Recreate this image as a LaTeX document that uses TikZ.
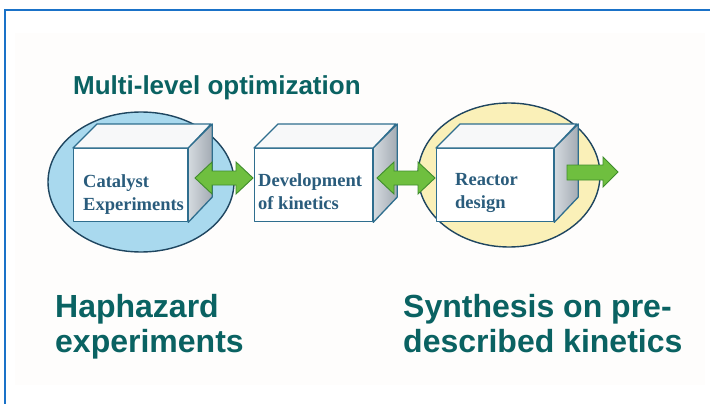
\documentclass[tikz,border=0pt]{standalone}
\usepackage{fontspec}
\setmainfont{Liberation Serif}
\newfontfamily\headfont{Liberation Sans}
\begin{document}
\begin{tikzpicture}[x=1pt,y=-1pt,
  frameline/.style={draw=frameblue,line width=2pt},
  orb/.style={draw=orbline,line width=1.4pt},
  face/.style={draw=cubeline,line width=1.3pt,line join=round},
  frontface/.style={face,fill=white,inner sep=0pt,anchor=north west},
  topface/.style={face,fill=topgrey},
  sideface/.style={face,left color=sidelight,right color=sidedark},
  blockarrow/.style={draw=arrowline,line width=0.9pt,fill=arrowgreen,line join=miter},
  boxtext/.style={text=boxblue,font=\bfseries\fontsize{18.5}{23}\selectfont,anchor=base west,inner sep=0pt},
  headtext/.style={text=headteal,font=\headfont\bfseries\fontsize{26}{30}\selectfont,anchor=base west,inner sep=0pt},
  bigtext/.style={text=headteal,font=\headfont\bfseries\fontsize{32}{35}\selectfont,anchor=base west,inner sep=0pt}
]
\definecolor{frameblue}{HTML}{1A72C8}
\definecolor{orbline}{HTML}{1F4660}
\definecolor{cubeline}{HTML}{2F6E8E}
\definecolor{topgrey}{HTML}{F7F8F9}
\definecolor{sidelight}{HTML}{D5DADF}
\definecolor{sidedark}{HTML}{A3ABB3}
\definecolor{arrowgreen}{HTML}{6FBF3F}
\definecolor{arrowline}{HTML}{3F8C2C}
\definecolor{boxblue}{HTML}{2A5C7C}
\definecolor{headteal}{HTML}{0A6262}
\definecolor{bluefill}{HTML}{A9D9EE}
\definecolor{yellowfill}{HTML}{FAF0B8}
\definecolor{paper}{HTML}{FEFDFC}

\useasboundingbox (0,0) rectangle (710,404);
\fill[white] (0,0) rectangle (710,404);
\fill[paper] (15,33) rectangle (705,385);

% frame: top and left rules
\draw[frameline] (5,404) -- (5,10) -- (710,10);

% level ellipses
\draw[orb,fill=bluefill] (141,182) ellipse [x radius=93,y radius=70];
\draw[orb,fill=yellowfill] (509,175) ellipse [x radius=91,y radius=72];

% cubes: front face as a node, top and side faces from its corners
\newcommand\cubeat[4]{% name, x, y, width
  \node[frontface,minimum width=#4pt,minimum height=73pt] (#1) at (#2,#3) {};
  \draw[topface] (#1.north west) -- ++(24,-24) -- ++(#4,0) -- (#1.north east) -- cycle;
  \draw[sideface] (#1.north east) -- ++(24,-24) -- ++(0,73) -- (#1.south east) -- cycle;
}
\cubeat{cat}{73}{148}{114}
\cubeat{dev}{254}{148}{118}
\cubeat{rea}{436}{148}{117}

% block arrows between the cubes
\newcommand\dblarrow[5]{% left tip x, right tip x, centre y, half shaft, half head
  \pgfmathsetmacro\la{#1+17}\pgfmathsetmacro\ra{#2-17}
  \draw[blockarrow] (#1,#3) -- (\la,#3-#5) -- (\la,#3-#4) -- (\ra,#3-#4) -- (\ra,#3-#5)
    -- (#2,#3) -- (\ra,#3+#5) -- (\ra,#3+#4) -- (\la,#3+#4) -- (\la,#3+#5) -- cycle;
}
\dblarrow{195}{253}{178}{7}{16}
\dblarrow{377}{435}{178}{7}{16}
% outgoing arrow from the reactor
\coordinate (out) at (618,172);
\draw[blockarrow] (567,165) -- (603,165) -- (603,157) -- (out) -- (603,187) -- (603,180) -- (567,180) -- cycle;

% cube labels
\node[boxtext] (catA) at (83,187) {Catalyst};
\node[boxtext] (catB) at (83,210) {Experiments};
\node[boxtext] (devA) at (258,186) {Development};
\node[boxtext] (devB) at (258,209) {of kinetics};
\node[boxtext] (reaA) at (455,185) {Reactor};
\node[boxtext] (reaB) at (455,208) {design};

% headings
\node[headtext] (title) at (73,95) {Multi-level optimization};
\node[bigtext] (hapA) at (55,317) {Haphazard};
\node[bigtext] (hapB) at (55,352) {experiments};
\node[bigtext] (synA) at (403,317) {Synthesis on pre-};
\node[bigtext] (synB) at (403,352) {described kinetics};
\end{tikzpicture}
\end{document}
